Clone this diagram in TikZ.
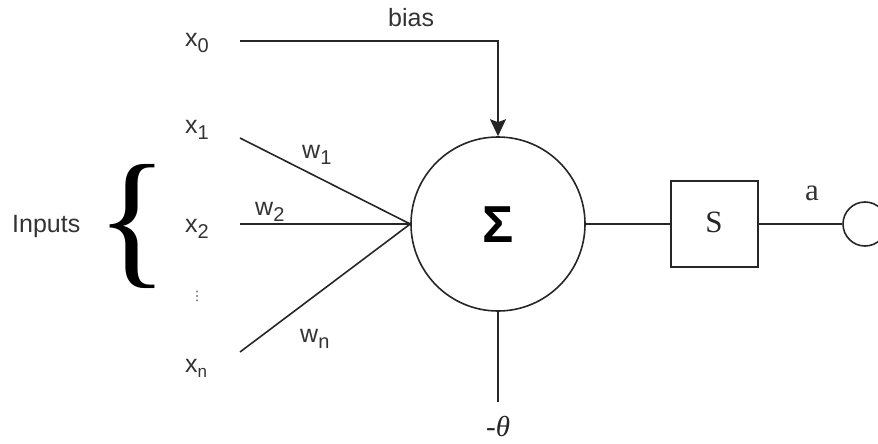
\documentclass[tikz,border=0pt]{standalone}
\usepackage{fontspec}
\setmainfont{Liberation Sans}
\newfontfamily\seriffont{Liberation Serif}
\newfontfamily\dejavu{DejaVu Sans}
\usetikzlibrary{arrows.meta}
\newcommand{\lbl}{\fontsize{25}{25}\selectfont}
\newcommand{\subs}[1]{\raisebox{-6pt}{\fontsize{20}{20}\selectfont #1}}
\newcommand{\subsm}[1]{\raisebox{-5pt}{\fontsize{17}{17}\selectfont #1}}
\tikzset{
  wire/.style={line width=1.6pt, draw=black!85},
  txt/.style={inner sep=0pt, anchor=base west, font=\lbl, text=black!80},
}
\begin{document}
\begin{tikzpicture}[x=1pt,y=-1pt]
\useasboundingbox (0,0) rectangle (878,444);
\clip (0,0) rectangle (878,444);
% main summation circle
\node[circle, line width=1.6pt, draw=black!85, minimum size=174pt, inner sep=0pt] (sum) at (498,224) {};
\node[inner sep=0pt, font=\fontsize{52}{52}\selectfont\bfseries] (sigma) at (498,225) {Σ};
% activation box
\node[draw=black!85, line width=1.6pt, minimum width=87pt, minimum height=86pt, inner sep=0pt] (act) at (714.5,224) {};
\node[inner sep=0pt, font=\seriffont\fontsize{31}{31}\selectfont, text=black!85] (S) at (714,222) {S};
% output circle
\node[circle, draw=black!85, line width=1.6pt, minimum size=44pt, inner sep=0pt] (out) at (865,224) {};
% input labels
\node[txt] (x0) at (185,47) {x\subs{0}};
\node[txt] (x1) at (185,133) {x\subs{1}};
\node[txt] (x2) at (185,232) {x\subs{2}};
\node[inner sep=0pt, font=\dejavu\fontsize{13}{13}\selectfont, text=black!70] (dots) at (197,296) {⋮};
\node[txt] (xn) at (185,372) {x\subsm{n}};
\node[txt] (inp) at (12,232) {Inputs};
% brace
\node[inner sep=0pt, font=\seriffont\fontsize{150}{150}\selectfont] (brace) at (132,226) {\{};
% weights
\node[txt] (w1) at (302,158) {w\subs{1}};
\node[txt] (w2) at (255,215) {w\subs{2}};
\node[txt] (wn) at (300,342) {w\subs{n}};
\node[txt] (bias) at (388,27) {bias};
\node[txt] (alab) at (805,200) {\seriffont\fontsize{31}{31}\selectfont a};
\node[inner sep=0pt, anchor=base west, font=\seriffont\itshape\fontsize{29}{29}\selectfont, text=black!85] (theta) at (486,436) {-θ};
% coordinates for wire ends
\coordinate (s0) at (240,41);
\coordinate (s1) at (240,138);
\coordinate (s2) at (240,224);
\coordinate (sn) at (240,352);
\coordinate (tb) at (498,402);
% wires
\draw[wire, -{Stealth[length=17pt,width=16pt,inset=3pt]}] (s0) -| (sum.north);
\draw[wire] (s1) -- (sum.west);
\draw[wire] (s2) -- (sum.west);
\draw[wire] (sn) -- (sum.west);
\draw[wire] (sum.south) -- (tb);
\draw[wire] (sum.east) -- (act.west);
\draw[wire] (act.east) -- (out.west);
\end{tikzpicture}
\end{document}
